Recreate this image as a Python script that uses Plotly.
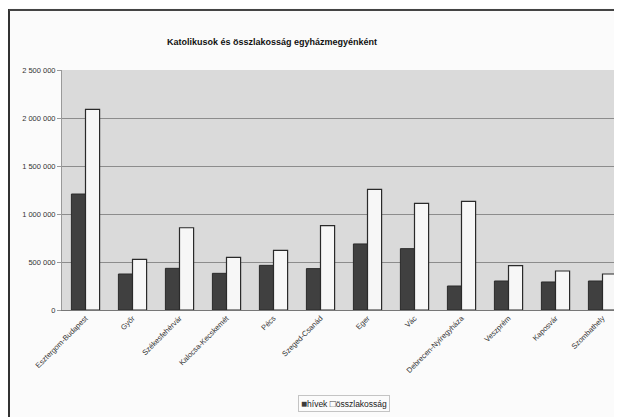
import plotly.graph_objects as go

categories = ["Esztergom-Budapest", "Győr", "Székesfehérvár", "Kalocsa-Kecskemét", "Pécs",
              "Szeged-Csanád", "Eger", "Vác", "Debrecen-Nyíregyháza", "Veszprém", "Kaposvár", "Szombathely"]
hivek = [1208000, 375000, 434000, 382000, 465000, 431000, 688000, 639000, 250000, 302000, 292000, 302000]
osszlakossag = [2090000, 528000, 857000, 549000, 622000, 878000, 1257000, 1111000, 1132000, 462000, 406000, 375000]
series_names = ["hívek", "összlakosság"]
ytick_vals = [0, 500000, 1000000, 1500000, 2000000, 2500000]
ytick_text = ["0", "500 000", "1 000 000", "1 500 000", "2 000 000", "2 500 000"]

# page has an 8px body margin, so figure coords = screen coords - 8
OFF = 8
W, H = 622 - OFF, 417 - OFF
L, T, B = 62 - OFF, 70 - OFF, 310 - OFF
pw = W - L
ph = B - T
cat_px = 47.0  # category width in screen pixels
x_end = -0.5 + pw / cat_px

def px_x(p):
    return (p - OFF - L) / pw

def px_y(p):
    return (B - (p - OFF)) / ph

fig = go.Figure()
fig.add_trace(go.Bar(x=categories, y=hivek, name=series_names[0], showlegend=False,
                     marker=dict(color="#404040", line=dict(color="#2a2a2a", width=1))))
fig.add_trace(go.Bar(x=categories, y=osszlakossag, name=series_names[1], showlegend=False,
                     marker=dict(color="#f7f7f7", line=dict(color="#2a2a2a", width=1.2))))

legend_text = ("<span style='color:#3a3a3a;font-size:10px'>■</span>" + series_names[0] +
               " <span style='color:#444;font-size:10px'>□</span>" + series_names[1])

fig.update_layout(
    width=W, height=H,
    margin=dict(l=L, r=0, t=T, b=H - B, pad=0),
    paper_bgcolor="#fbfbfb",
    plot_bgcolor="#dadada",
    barmode="group", bargap=0.4, bargroupgap=0,
    font=dict(family="Liberation Sans, Arial, sans-serif", size=7.5, color="#222"),
    title=dict(text="<b>Katolikusok és összlakosság egyházmegyénként</b>",
               x=(272 - OFF) / W, xref="container", xanchor="center",
               y=1 - (42 - OFF) / H, yref="container", yanchor="middle",
               font=dict(size=9, color="#111")),
    showlegend=False,
    xaxis=dict(range=[-0.5, x_end], tickangle=-45, showgrid=False,
               showline=True, linecolor="#777", linewidth=1, ticks="",
               tickfont=dict(size=7.5, color="#333")),
    yaxis=dict(range=[0, 2500000], tickvals=ytick_vals, ticktext=ytick_text,
               showgrid=True, gridcolor="#8c8c8c", gridwidth=1,
               showline=True, linecolor="#999", linewidth=1,
               ticks="outside", ticklen=4, tickcolor="#999",
               tickfont=dict(size=7.5, color="#333"), zeroline=False),
    annotations=[
        dict(text=legend_text, xref="paper", yref="paper", x=px_x(344), y=px_y(403),
             xanchor="center", yanchor="middle", showarrow=False,
             font=dict(size=8.5, color="#222"),
             bordercolor="#c4c4c4", borderwidth=1, borderpad=2, bgcolor="rgba(0,0,0,0)"),
    ],
    shapes=[
        dict(type="line", xref="paper", yref="paper", x0=px_x(9), x1=px_x(9),
             y0=px_y(9), y1=px_y(440), line=dict(color="#333", width=2)),
        dict(type="line", xref="paper", yref="paper", x0=px_x(9), x1=px_x(640),
             y0=px_y(10), y1=px_y(10), line=dict(color="#444", width=2)),
    ],
)

fig.write_html("out.html")
